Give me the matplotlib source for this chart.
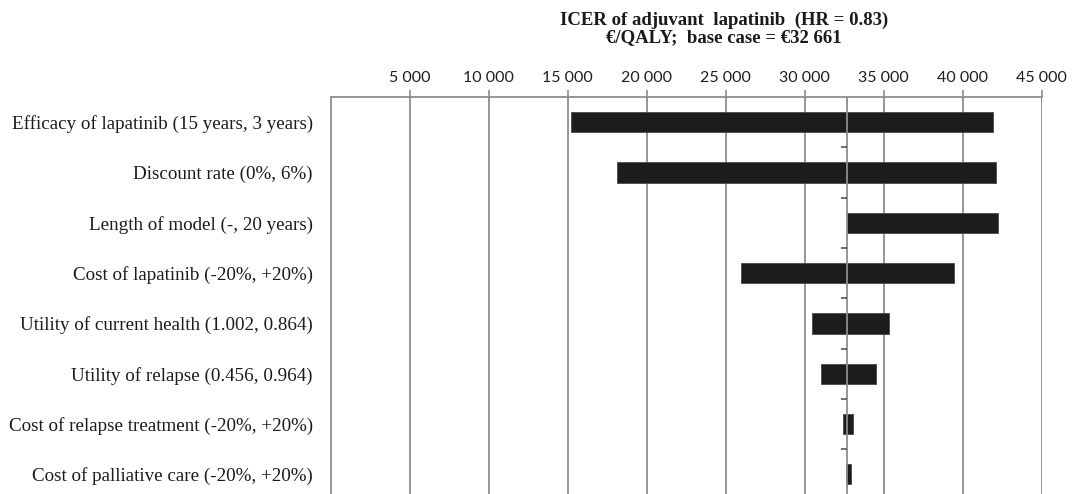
import matplotlib
matplotlib.use("Agg")
import matplotlib.pyplot as plt
import numpy as np

# one-way sensitivity analysis, ICER in EUR/QALY
params = ["Efficacy of lapatinib (15 years, 3 years)",
          "Discount rate (0%, 6%)",
          "Length of model (-, 20 years)",
          "Cost of lapatinib (-20%, +20%)",
          "Utility of current health (1.002, 0.864)",
          "Utility of relapse (0.456, 0.964)",
          "Cost of relapse treatment (-20%, +20%)",
          "Cost of palliative care (-20%, +20%)"]
low = [15200, 18100, 32661, 25950, 30440, 31050, 32400, 32640]
high = [41950, 42100, 42250, 39450, 35350, 34530, 33050, 32920]
base_case = 32661
xticks = [5000, 10000, 15000, 20000, 25000, 30000, 35000, 40000, 45000]

grid_col = "#8c8c8c"

fig = plt.figure(figsize=(10.73, 4.94), dpi=100)
ax = fig.add_axes([0.3082, -0.0113, 0.6626, 0.8149])

y = np.arange(len(params))
ax.barh(y, np.array(high) - np.array(low), left=low, height=0.4,
        color="#1c1c1c", edgecolor="#4a4a4a", linewidth=0.6, zorder=3)

ax.set_xlim(0, 45000)
ax.set_ylim(len(params) - 0.5, -0.5)

# x axis on top, gridlines at each tick
ax.xaxis.tick_top()
ax.set_xticks(xticks)
ax.set_xticklabels([f"{v:,}".replace(",", " ") for v in xticks],
                   family="Lato", fontsize=11.5, color="#1e1e1e")
ax.tick_params(axis="x", length=5, width=1.2, color=grid_col, pad=4)
ax.grid(axis="x", color=grid_col, linewidth=1.3, zorder=1)

ax.set_yticks(y)
ax.set_yticklabels(params, family="Liberation Serif", fontsize=13.7, color="#1a1a1a")
ax.tick_params(axis="y", length=0, pad=13)

for s in ["right", "bottom"]:
    ax.spines[s].set_visible(False)
for s in ["left", "top"]:
    ax.spines[s].set_color(grid_col)
    ax.spines[s].set_linewidth(1.3)

# base case line with category tick marks
ax.axvline(base_case, color=grid_col, linewidth=1.3, zorder=4)
ax.plot([base_case] * (len(params) - 1), y[:-1] + 0.5, linestyle="none",
        marker=0, markersize=4, markeredgewidth=1.2, color="#555555", zorder=4)

fig.text(0.675, 0.958, "ICER of adjuvant  lapatinib  (HR = 0.83)",
         ha="center", va="center", family="Liberation Serif", fontweight="bold",
         fontsize=13.5, color="#1a1a1a")
fig.text(0.675, 0.924, "€/QALY;  base case = €32 661",
         ha="center", va="center", family="Liberation Serif", fontweight="bold",
         fontsize=13.5, color="#1a1a1a")

fig.savefig("out.png", dpi=100)
